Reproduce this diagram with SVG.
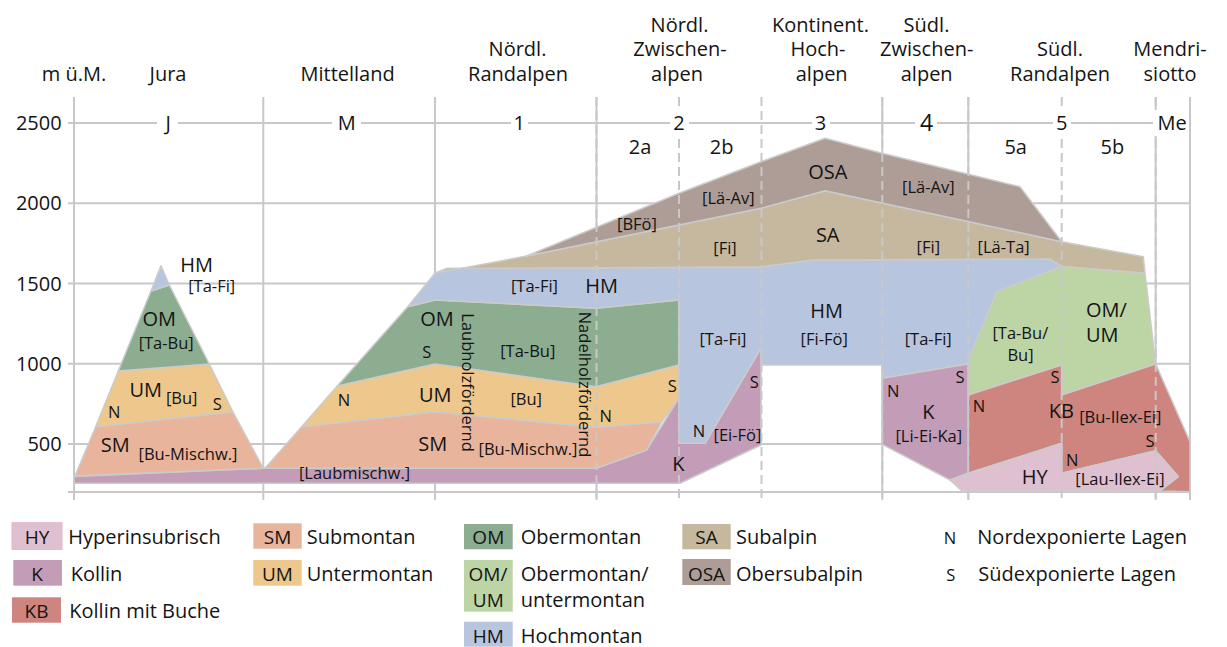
<svg xmlns="http://www.w3.org/2000/svg" width="1227" height="647" viewBox="0 0 1227 647">
<style>
text{font-family:'Open Sans','Noto Sans',sans-serif;fill:#141414}
.hd{font-size:20px;text-anchor:middle}
.ax{font-size:20px;text-anchor:end}
.col{font-size:20px;text-anchor:middle}
.c{font-size:20px;text-anchor:middle}
.b{font-size:16.5px;text-anchor:middle}
.v{font-size:16.5px;text-anchor:start}
.ns{font-size:16.5px;text-anchor:middle}
.lg{font-size:20px}
.lgc{font-size:19px;text-anchor:middle}
.g{stroke:#c8c8c8;stroke-width:2;fill:none}
.gd{stroke:#c8c8c8;stroke-width:2;fill:none;stroke-dasharray:9 5}
.z{stroke:#cbcbcb;stroke-width:1.5;stroke-linejoin:round}
.HY{fill:#dfc0d1}.K{fill:#c39cb8}.KB{fill:#ce857f}.SM{fill:#e8b59c}.UM{fill:#edc78b}
.OM{fill:#8cad90}.OMUM{fill:#bdd4a4}.HM{fill:#b8c5de}.SA{fill:#c6b89f}.OSA{fill:#ad9d96}
</style>

<g id="header">
<text class="hd" x="74" y="80.7">m ü.M.</text>
<text class="hd" x="168" y="80.7">Jura</text>
<text class="hd" x="347.6" y="80.7">Mittelland</text>
<text class="hd" x="517.5" y="56">Nördl.</text>
<text class="hd" x="518" y="80.7">Randalpen</text>
<text class="hd" x="679.5" y="31.7">Nördl.</text>
<text class="hd" x="680" y="56">Zwischen-</text>
<text class="hd" x="677" y="80.7">alpen</text>
<text class="hd" x="820.5" y="31.7">Kontinent.</text>
<text class="hd" x="818" y="56">Hoch-</text>
<text class="hd" x="821.7" y="80.7">alpen</text>
<text class="hd" x="926.5" y="31.7">Südl.</text>
<text class="hd" x="926.7" y="56">Zwischen-</text>
<text class="hd" x="926.7" y="80.7">alpen</text>
<text class="hd" x="1060" y="56">Südl.</text>
<text class="hd" x="1060" y="80.7">Randalpen</text>
<text class="hd" x="1170" y="56">Mendri-</text>
<text class="hd" x="1170" y="80.7">siotto</text>
</g>

<g id="grid">
<line class="g" x1="68" y1="123" x2="1190" y2="123"/>
<line class="g" x1="68" y1="203.3" x2="1190" y2="203.3"/>
<line class="g" x1="68" y1="283.5" x2="1190" y2="283.5"/>
<line class="g" x1="68" y1="363.8" x2="1190" y2="363.8"/>
<line class="g" x1="68" y1="444" x2="1190" y2="444"/>
<line class="g" x1="68" y1="492" x2="1190" y2="492"/>
<line class="g" x1="74" y1="97" x2="74" y2="500"/>
<line class="g" x1="263.3" y1="97" x2="263.3" y2="500"/>
<line class="g" x1="435" y1="97" x2="435" y2="500"/>
<line class="g" x1="596.5" y1="97" x2="596.5" y2="500"/>
<line class="g" x1="882.3" y1="97" x2="882.3" y2="500"/>
<line class="g" x1="968.3" y1="97" x2="968.3" y2="500"/>
<line class="g" x1="1155.7" y1="97" x2="1155.7" y2="500"/>
<line class="g" x1="1190" y1="97" x2="1190" y2="500"/>
</g>

<g id="zones">
<g id="jura">
<polygon class="z K" points="74,476.5 263.3,468.3 596,468.3 646.7,450 678.7,398.3 679,443.3 705,443.3 761,348 761,445 680,483.3 74,483.3"/>
<polygon class="z SM" points="75,476 95.7,426.7 232.7,411.7 263.3,468.3"/>
<polygon class="z UM" points="95.7,426.7 118.3,371 209.3,364 232.7,411.7"/>
<polygon class="z OM" points="118.3,371 151,291 169.3,285 209.3,364"/>
<polygon class="z HM" points="151,291 161,265.7 169.3,285"/>
</g>
<g id="mittelland">
<polygon class="z SM" points="265,468.3 301.7,426.7 435,411.7 596,427.3 661.7,421.7 646.7,450 596,468.3"/>
<polygon class="z UM" points="301.7,426.7 337.3,386 435,364 596,386.7 678.7,365 678.7,398.3 661.7,421.7 596,427.3 435,411.7"/>
<polygon class="z OM" points="337.3,386 407.7,306.7 435,300 596,308.3 678.7,300 678.7,365 596,386.7 435,364"/>
</g>
<g id="alpen">
<polygon class="z HM" points="407.7,306.7 435,273.3 447,268.5 761,267 813,260 1050,259 1061.7,266.5 996.7,291.7 970,356.7 968.3,364 882.3,378.3 882.3,365 762,365 761,348 705,443.3 679,443.3 679,300 596,308.3 435,300"/>
<polygon class="z SA" points="435,273.3 526.7,256 761,208.3 825,190.7 1061.7,241.7 1143.3,256.7 1145,273.3 1061.7,266.5 1050,259 813,260 761,267 447,268.5"/>
<polygon class="z OSA" points="526.7,256 679,193.3 761,161.7 825,138.3 882,153.3 1020,186.7 1061.7,241.7 825,190.7 761,208.3"/>
<polygon class="z K" points="882.3,378.3 968.3,364 968.3,473.3 950,480 882.3,444.3"/>
<polygon class="z OMUM" points="996.7,291.7 1061.7,266.5 1145,273.3 1155.7,364 1061.7,395 1061.7,365 968.3,395 968.3,364 970,356.7"/>
<polygon class="z KB" points="968.3,395 1061.7,365 1061.7,395 1155.7,364 1190,441.7 1190,491.7 1160,491 1178.3,476.7 1155.7,450.7 1061.7,473.3 1061.7,443.3 968.3,473.3"/>
<polygon class="z HY" points="950,480 968.3,473.3 1061.7,443.3 1061.7,473.3 1155.7,450.7 1178.3,476.7 1160,491 962,491"/>
</g>
</g>

<g id="dashes">
<line class="gd" x1="596.5" y1="97" x2="596.5" y2="500"/>
<line class="gd" x1="679" y1="97" x2="679" y2="500"/>
<line class="gd" x1="761.5" y1="97" x2="761.5" y2="500"/>
<line class="gd" x1="882.3" y1="97" x2="882.3" y2="500"/>
<line class="gd" x1="968.3" y1="97" x2="968.3" y2="500"/>
<line class="gd" x1="1061.7" y1="97" x2="1061.7" y2="500"/>
<line class="gd" x1="1155.7" y1="97" x2="1155.7" y2="500"/>
</g>

<g id="axis">
<text class="ax" x="61.7" y="130">2500</text>
<text class="ax" x="61.7" y="210.3">2000</text>
<text class="ax" x="61.7" y="290.5">1500</text>
<text class="ax" x="61.7" y="370.8">1000</text>
<text class="ax" x="61.7" y="451">500</text>
<g fill="#fff">
<rect x="157" y="110" width="21" height="26"/>
<rect x="332" y="110" width="29" height="26"/>
<rect x="511" y="110" width="17" height="26"/>
<rect x="670" y="110" width="19" height="26"/>
<rect x="812" y="110" width="18" height="26"/>
<rect x="915" y="110" width="22" height="26"/>
<rect x="1053" y="110" width="18" height="26"/>
<rect x="1153" y="110" width="36" height="26"/>
</g>
<text class="col" x="168.3" y="130">J</text>
<text class="col" x="346.7" y="130">M</text>
<text class="col" x="519.3" y="130">1</text>
<text class="col" x="679" y="130">2</text>
<text class="col" x="820.5" y="130">3</text>
<text class="col" x="926.7" y="131" style="font-size:23px">4</text>
<text class="col" x="1061.7" y="130">5</text>
<text class="col" x="1172" y="130">Me</text>
<text class="col" x="640" y="154.3">2a</text>
<text class="col" x="721.7" y="154.3">2b</text>
<text class="col" x="1015.7" y="154.3">5a</text>
<text class="col" x="1112.3" y="154.3">5b</text>
</g>

<g id="labels">
<text class="c" x="196.7" y="272">HM</text>
<text class="b" x="211.7" y="292">[Ta-Fi]</text>
<text class="c" x="159.3" y="326">OM</text>
<text class="b" x="166.2" y="349">[Ta-Bu]</text>
<text class="c" x="145.8" y="396.7">UM</text>
<text class="b" x="181.7" y="404">[Bu]</text>
<text class="ns" x="114.3" y="418.3">N</text>
<text class="ns" x="217.3" y="410">S</text>
<text class="c" x="115.3" y="451.7">SM</text>
<text class="b" x="188" y="460">[Bu-Mischw.]</text>

<text class="b" x="354.5" y="479">[Laubmischw.]</text>
<text class="c" x="432.8" y="450.7">SM</text>
<text class="b" x="528" y="455">[Bu-Mischw.]</text>
<text class="ns" x="344" y="406">N</text>
<text class="c" x="435.3" y="401.7">UM</text>
<text class="b" x="526.2" y="405">[Bu]</text>
<text class="ns" x="605.7" y="421.7">N</text>
<text class="ns" x="672.3" y="391.7">S</text>
<text class="c" x="437" y="326">OM</text>
<text class="ns" x="426.7" y="358.3">S</text>
<text class="b" x="527.8" y="357">[Ta-Bu]</text>
<text class="b" x="534.5" y="292">[Ta-Fi]</text>
<text class="c" x="601.7" y="293.3">HM</text>
<text class="b" x="637" y="230">[BFö]</text>
<text class="c" x="678.3" y="470.7">K</text>
<text class="v" transform="translate(462,313.3) rotate(90)">Laubholzfördernd</text>
<text class="v" transform="translate(578.5,311.7) rotate(90)">Nadelholzfördernd</text>

<text class="b" x="728.3" y="204">[Lä-Av]</text>
<text class="b" x="725" y="254">[Fi]</text>
<text class="b" x="723" y="345">[Ta-Fi]</text>
<text class="ns" x="699" y="436.7">N</text>
<text class="b" x="737.5" y="441">[Ei-Fö]</text>
<text class="ns" x="754.3" y="388.3">S</text>
<text class="c" x="827.8" y="179.3">OSA</text>
<text class="c" x="827.7" y="241.7">SA</text>
<text class="c" x="826.7" y="318.3">HM</text>
<text class="b" x="824.2" y="345">[Fi-Fö]</text>
<text class="b" x="928.3" y="192.5">[Lä-Av]</text>
<text class="b" x="928.3" y="253">[Fi]</text>
<text class="b" x="928.2" y="345">[Ta-Fi]</text>
<text class="ns" x="893.3" y="397.3">N</text>
<text class="ns" x="960" y="382.7">S</text>
<text class="c" x="928.3" y="419">K</text>
<text class="b" x="928.8" y="442">[Li-Ei-Ka]</text>

<text class="b" x="1003.7" y="252.5">[Lä-Ta]</text>
<text class="b" x="1020.3" y="339">[Ta-Bu/</text>
<text class="b" x="1020.5" y="360.5">Bu]</text>
<text class="c" x="1086" y="316.7" style="text-anchor:start">OM/</text>
<text class="c" x="1086" y="341.7" style="text-anchor:start">UM</text>
<text class="ns" x="1055" y="383.3">S</text>
<text class="ns" x="979" y="411.7">N</text>
<text class="c" x="1061.3" y="418.3">KB</text>
<text class="b" x="1120.3" y="423">[Bu-Ilex-Ei]</text>
<text class="ns" x="1150" y="447.3">S</text>
<text class="ns" x="1072.3" y="466">N</text>
<text class="c" x="1034.8" y="484.3">HY</text>
<text class="b" x="1120" y="485">[Lau-Ilex-Ei]</text>
</g>

<g id="legend">
<g id="lg-HY"><rect class="HY" x="12" y="522.7" width="50" height="26.7" stroke="#e6b3ca" stroke-width="1"/><text class="lgc" x="37" y="544.3">HY</text><text class="lg" x="68.3" y="544.3">Hyperinsubrisch</text></g>
<g id="lg-K"><rect class="K" x="13.3" y="560" width="48.7" height="25.7"/><text class="lgc" x="37" y="581">K</text><text class="lg" x="70.7" y="581">Kollin</text></g>
<g id="lg-KB"><rect class="KB" x="12" y="597.3" width="49" height="25.4"/><text class="lgc" x="36.5" y="618.3">KB</text><text class="lg" x="69.3" y="618.3">Kollin mit Buche</text></g>
<g id="lg-SM"><rect class="SM" x="253.3" y="523.3" width="48.4" height="25.4"/><text class="lgc" x="277.5" y="544.3">SM</text><text class="lg" x="306.7" y="544.3">Submontan</text></g>
<g id="lg-UM"><rect class="UM" x="253.3" y="560" width="48.4" height="25.7"/><text class="lgc" x="277.5" y="581">UM</text><text class="lg" x="306.7" y="581">Untermontan</text></g>
<g id="lg-OM"><rect class="OM" x="464" y="524" width="48.7" height="25.3"/><text class="lgc" x="488.3" y="544.3">OM</text><text class="lg" x="520.7" y="544.3">Obermontan</text></g>
<g id="lg-OMUM"><rect class="OMUM" x="464" y="560" width="48.7" height="51.7"/><text class="lgc" x="488" y="581">OM/</text><text class="lgc" x="488.3" y="606.7">UM</text><text class="lg" x="520.7" y="581">Obermontan/</text><text class="lg" x="520.7" y="606.7">untermontan</text></g>
<g id="lg-HM"><rect class="HM" x="464" y="621.7" width="48.7" height="25"/><text class="lgc" x="488.3" y="642.7">HM</text><text class="lg" x="520.7" y="642.7">Hochmontan</text></g>
<g id="lg-SA"><rect class="SA" x="682.3" y="524" width="48.4" height="25.3"/><text class="lgc" x="706.5" y="544.3">SA</text><text class="lg" x="736" y="544.3">Subalpin</text></g>
<g id="lg-OSA"><rect class="OSA" x="682.3" y="559" width="48.4" height="26"/><text class="lgc" x="706.5" y="581">OSA</text><text class="lg" x="736" y="581">Obersubalpin</text></g>
<g id="lg-N"><text class="ns" x="950" y="544.3">N</text><text class="lg" x="977.3" y="544.3">Nordexponierte Lagen</text></g>
<g id="lg-S"><text class="ns" x="950.7" y="581">S</text><text class="lg" x="978.3" y="581">Südexponierte Lagen</text></g>
</g>
</svg>
